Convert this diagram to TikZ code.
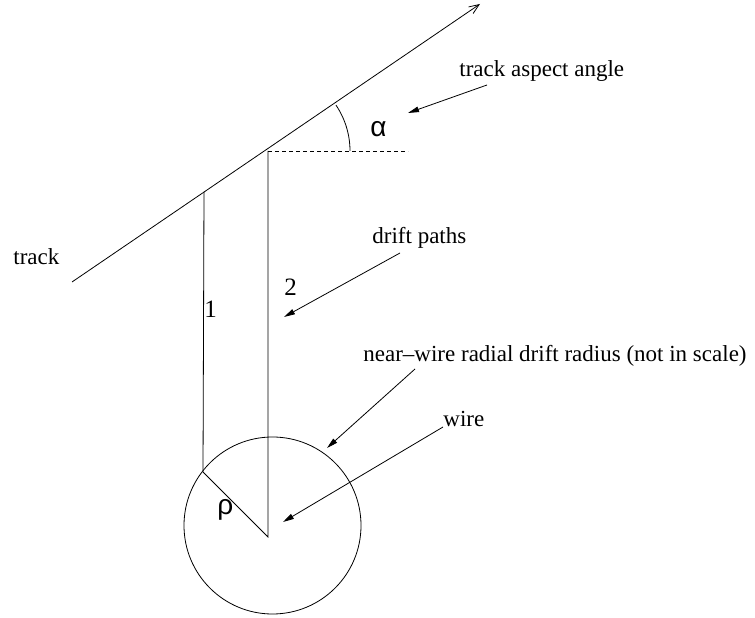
\documentclass[tikz,border=0pt]{standalone}
\usepackage{fontspec}
\setmainfont{Liberation Serif}
\newfontfamily\greekfont{Liberation Sans}
\usetikzlibrary{positioning, arrows.meta}

\begin{document}
\begin{tikzpicture}[x=1pt, y=1pt, line width=0.8pt]
\tikzstyle{label} = [font=\fontsize{23}{26}\selectfont, inner sep=0pt, anchor=base west]
\tikzstyle{digit} = [font=\fontsize{25}{28}\selectfont, inner sep=0pt, anchor=base west]
\tikzstyle{greek} = [font=\greekfont\fontsize{28}{31}\selectfont, inner sep=0pt, anchor=base west]
\tikzstyle{line} = [draw, -{Triangle[length=11pt, width=5.5pt]}]

\useasboundingbox (0,0) rectangle (755,618);

% track, drift paths and wire
\coordinate (tstart) at (72,336);
\coordinate (tend) at (480,614);
\coordinate (top1) at (204,426);
\coordinate (top2) at (268,467);
\coordinate (dashend) at (408,467);
\coordinate (foot1) at (203,146);
\coordinate (wire) at (268,81);
\coordinate (centre) at (272.5,92.5);

\draw[-{Straight Barb[length=10pt, width=8pt]}] (tstart) -- (tend);
\draw[dashed, dash pattern=on 4pt off 3pt] (top2) -- (dashend);
\draw (top2) ++(82,0) arc[start angle=0, end angle=34, radius=82];
\draw (top1) -- (foot1) -- (wire) -- (top2);
\draw (centre) circle[radius=88.5];

% labels
\node (track) [label] at (13,353) {track};
\node (alpha) [greek] at (370,481) {α};
\node (rho) [greek] at (217,103) {ρ};
\node (one) [digit] at (204,300) {1};
\node (two) [digit] at (284,322) {2};
\node (aspect) [label] at (459,541) {track aspect angle};
\node (drift) [label] at (372,374) {drift paths};
\node (radius) [label] at (363,256) {near--wire radial drift radius (not in scale)};
\node (wirelbl) [label] at (443,191) {wire};

% pointers
\coordinate (a1) at (487,533);
\coordinate (a2) at (408,505);
\coordinate (d1) at (400,365);
\coordinate (d2) at (284,301);
\coordinate (r1) at (415,249);
\coordinate (r2) at (327,170);
\coordinate (w1) at (443,191);
\coordinate (w2) at (283,96);

\path[line] (a1) -- (a2);
\path[line] (d1) -- (d2);
\path[line] (r1) -- (r2);
\path[line] (w1) -- (w2);
\end{tikzpicture}
\end{document}
